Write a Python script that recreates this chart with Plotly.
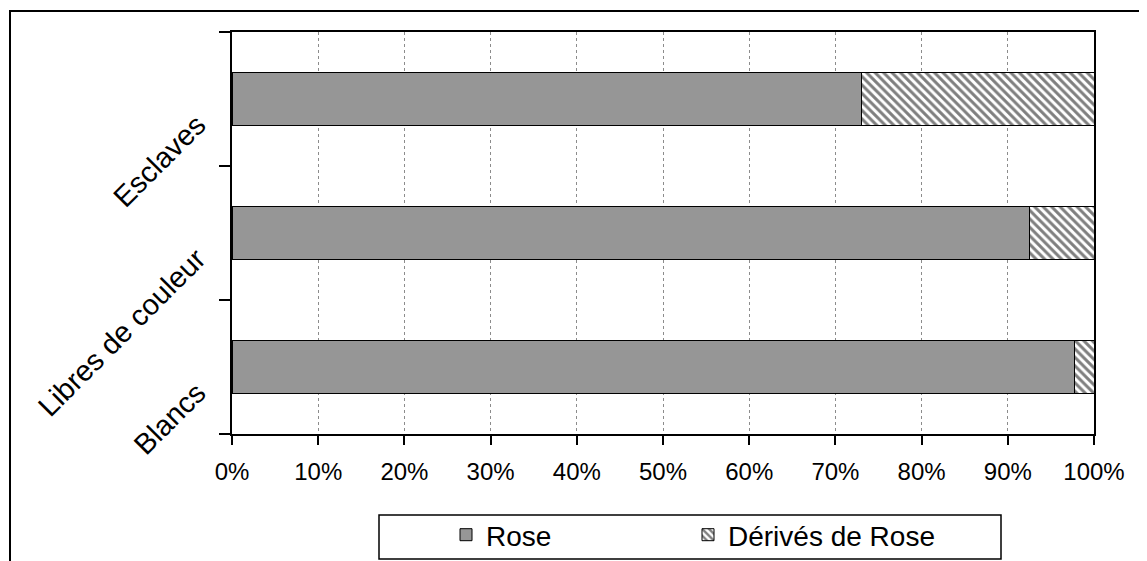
import plotly.graph_objects as go

categories = ["Blancs", "Libres de couleur", "Esclaves"]
rose = [97.7, 92.5, 73.0]
derives = [2.3, 7.5, 27.0]
series_names = ["Rose", "Dérivés de Rose"]
x_ticks = [0, 10, 20, 30, 40, 50, 60, 70, 80, 90, 100]
x_tick_labels = [f"{v}%" for v in x_ticks]

FONT = "Arial, Liberation Sans, sans-serif"
OFF = 8  # page body margin
W, H = 1147 - OFF, 561 - OFF
# plot area in screen pixels
SL, SR, ST, SB = 232, 1094, 32, 434
L, R, T, B = SL - OFF, SR - OFF, ST - OFF, SB - OFF

def px_x(sx):
    return (sx - OFF - L) / (R - L)

def px_y(sy):
    return (B - (sy - OFF)) / (B - T)

fig = go.Figure()
fig.add_trace(go.Bar(
    y=categories, x=rose, orientation="h", name=series_names[0],
    marker=dict(color="#969696", line=dict(color="black", width=1)),
    legend="legend",
))
fig.add_trace(go.Bar(
    y=categories, x=derives, orientation="h", name=series_names[1],
    marker=dict(color="white", line=dict(color="black", width=1),
                pattern=dict(shape="\\", fgcolor="black", bgcolor="white",
                             size=6, solidity=0.5)),
    legend="legend2",
))

legend_common = dict(
    orientation="h", xanchor="left", yanchor="middle",
    borderwidth=0, bgcolor="rgba(0,0,0,0)",
    font=dict(family=FONT, size=28, color="black"),
)

fig.update_layout(
    width=W, height=H,
    margin=dict(l=L, r=W - R, t=T, b=H - B, pad=0, autoexpand=False),
    barmode="stack", bargap=0.6,
    paper_bgcolor="white", plot_bgcolor="white",
    font=dict(family=FONT, size=24, color="black"),
    showlegend=True,
    legend=dict(x=px_x(446), y=px_y(535), **legend_common),
    legend2=dict(x=px_x(688), y=px_y(535), **legend_common),
    xaxis=dict(
        range=[0, 100], tickvals=x_ticks, ticktext=x_tick_labels,
        showgrid=True, gridcolor="#8c8c8c", griddash="dot", gridwidth=1,
        showline=True, linecolor="black", linewidth=2, mirror=True,
        ticks="outside", ticklen=9, tickcolor="black", tickwidth=2,
        zeroline=False, tickfont=dict(size=24), automargin=False,
        ticklabelstandoff=6,
    ),
    yaxis=dict(
        type="category", categoryorder="array", categoryarray=categories,
        showgrid=False,
        showline=True, linecolor="black", linewidth=2, mirror=True,
        ticks="outside", ticklen=11, tickcolor="black", tickwidth=2,
        tickson="boundaries", tickangle=-45, tickfont=dict(size=29),
        automargin=False, ticklabelstandoff=27, ticklabelshift=22,
    ),
)

# outer chart border
fig.add_shape(
    type="rect", xref="paper", yref="paper",
    x0=px_x(10), x1=px_x(1170), y0=px_y(590), y1=px_y(11),
    line=dict(color="black", width=2), fillcolor="rgba(0,0,0,0)", layer="above",
)
# legend box
fig.add_shape(
    type="rect", xref="paper", yref="paper",
    x0=px_x(379), x1=px_x(1001), y0=px_y(559), y1=px_y(515),
    line=dict(color="black", width=1.5), fillcolor="rgba(0,0,0,0)", layer="above",
)

fig.write_html("out.html")
